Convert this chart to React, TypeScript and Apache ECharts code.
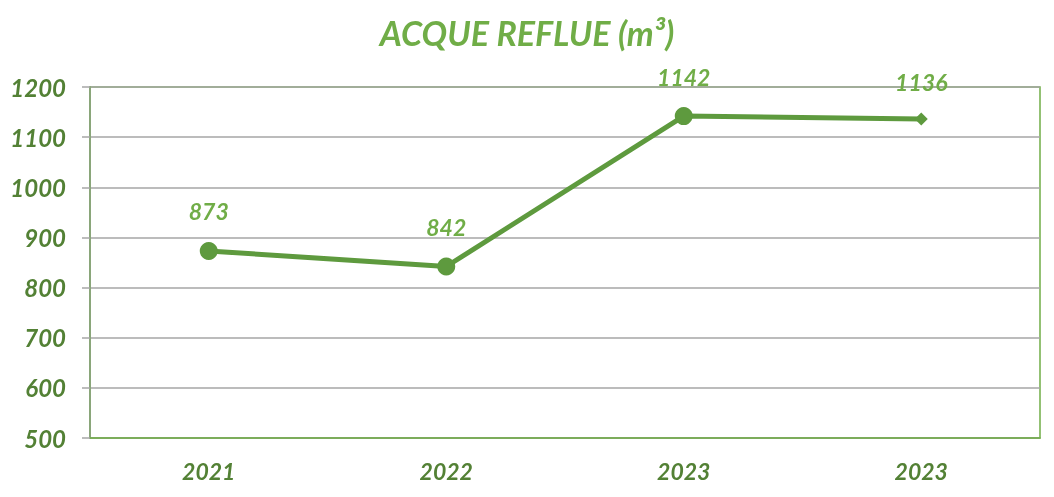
import React, { useEffect, useRef } from "react";
import * as echarts from "echarts";

const categories = ["2021", "2022", "2023", "2023"];
const values = [873, 842, 1142, 1136];
const symbols = ["circle", "circle", "circle", "diamond"];
const symbolSizes = [18, 18, 18, 13];
const yTicks = { min: 500, max: 1200, interval: 100 };

export default function App() {
  const ref = useRef<HTMLDivElement>(null);
  useEffect(() => {
    const chart = echarts.init(ref.current!, null, { renderer: "svg" });
    const font = "Lato, 'Open Sans', sans-serif";
    chart.setOption({
      animation: false,
      title: {
        text: "ACQUE REFLUE (m³)",
        left: "center",
        top: 10,
        textStyle: { color: "#70AD47", fontSize: 34, fontWeight: "bold", fontStyle: "italic", fontFamily: font },
      },
      grid: { left: 90, right: 14, top: 87, bottom: 59, show: true, borderColor: "#70AD47", borderWidth: 1.5, backgroundColor: "transparent" },
      xAxis: {
        type: "category",
        data: categories,
        boundaryGap: true,
        axisLine: { lineStyle: { color: "#70AD47", width: 1.5 } },
        axisTick: { show: false },
        axisLabel: { color: "#538135", fontSize: 23, fontWeight: "bold", fontStyle: "italic", fontFamily: font, margin: 21 },
      },
      yAxis: {
        type: "value",
        min: yTicks.min,
        max: yTicks.max,
        interval: yTicks.interval,
        axisLine: { show: true, lineStyle: { color: "#8AA67A", width: 2 } },
        axisTick: { show: true, length: 8, lineStyle: { color: "#A6A6A6", width: 1.5 } },
        splitLine: { lineStyle: { color: "#A6A6A6", width: 1.5 } },
        axisLabel: {
          color: "#538135", fontSize: 24, fontWeight: "bold", fontStyle: "italic", fontFamily: font, margin: 24,
          formatter: (v: number) => String(v),
        },
      },
      series: [
        {
          type: "line",
          data: values.map((v, i) => ({ value: v, symbol: symbols[i], symbolSize: symbolSizes[i] })),
          lineStyle: { color: "#5E9A3E", width: 5 },
          itemStyle: { color: "#5E9A3E" },
          label: {
            show: true,
            position: "top",
            distance: 19,
            color: "#70AD47",
            fontSize: 23,
            fontWeight: "bold",
            fontStyle: "italic",
            fontFamily: font,
          },
        },
      ],
    });
    return () => chart.dispose();
  }, []);
  return <div ref={ref} style={{ position: "fixed", left: 0, top: 0, width: 1054, height: 497 }} />;
}
